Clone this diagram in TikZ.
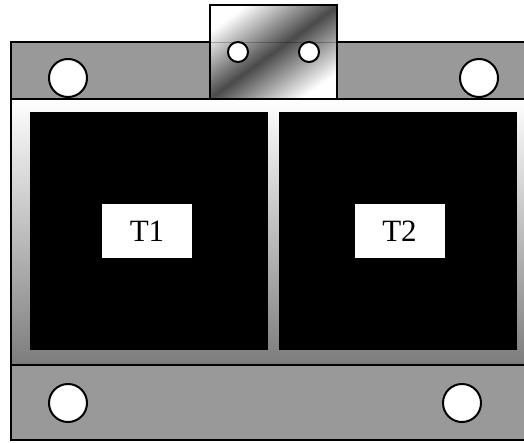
\documentclass[tikz,border=0pt]{standalone}
\usepackage{fontspec}
\setmainfont{Liberation Serif}
\tikzset{
 rail/.style={draw=black, line width=2},
 hole/.style={draw=black, line width=2, fill=white},
 core/.style={fill=black},
 tag/.style={fill=white, minimum width=90, minimum height=54, inner sep=0, font=\fontsize{31}{31}\selectfont},
}
\definecolor{barGray}{HTML}{999999}
\definecolor{bodyGray}{HTML}{7C7C7C}
\definecolor{bracketDark}{HTML}{4A4A4A}
\begin{document}
\begin{tikzpicture} [x=1pt, y=-1pt]
\useasboundingbox (0,0) rectangle (524,442);
\shade[top color=white, bottom color=bodyGray] (11,99) rectangle (524,365);
\draw[rail] (11,99)--(11,365);
\fill[barGray] (11,42) rectangle (524,99);
\draw[rail] (524,42)--(11,42)--(11,99)--(524,99);
\fill[barGray] (11,365) rectangle (524,440);
\draw[rail] (524,365)--(11,365)--(11,440)--(524,440);
\fill[core] (30,112) rectangle (268,350);
\fill[core] (279,112) rectangle (517,350);
\node[tag] (T1) at (147,231) {T1};
\node[tag] (T2) at (399.5,231) {T2};
\foreach \x/\y in {68/78, 479/78, 68/403, 462/403} {
 \draw[hole] (\x,\y) circle (19);
}
\shade[left color=white, right color=white, middle color=bracketDark, shading angle=36] (210,5) rectangle (337,99);
\draw[black, line width=.8, opacity=.25] (210,42)--(337,42);
\draw[black, line width=2] (210,5) rectangle (337,99);
\foreach \x in {238, 309} {
 \draw[hole] (\x,52) circle (10);
}
\end{tikzpicture}
\end{document}
